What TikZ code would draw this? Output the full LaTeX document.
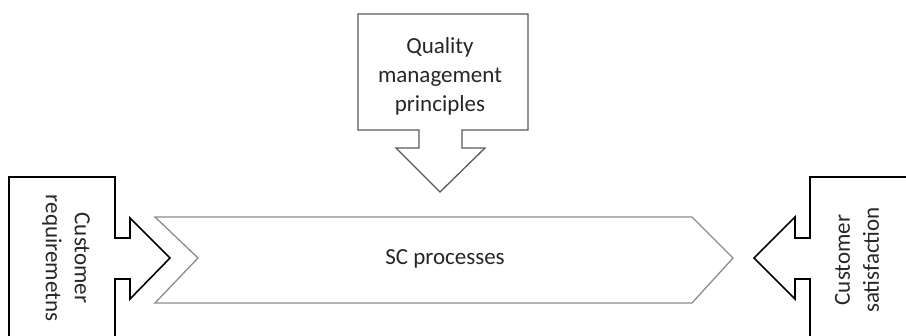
\documentclass[tikz,border=0pt]{standalone}
\usepackage{fontspec}
\setmainfont{Carlito}
\usetikzlibrary{positioning}
\tikzset{
  callout/.style={draw=black, line width=1.6pt, line join=miter},
  topcallout/.style={draw=black!65, line width=1.3pt, line join=miter},
  chevron/.style={draw=black!45, line width=1.3pt, line join=miter},
  label/.style={text=black!85, align=center, font=\fontsize{23}{29}\selectfont}
}
\begin{document}
\begin{tikzpicture}[x=1pt,y=-1pt]
\useasboundingbox (0,0) rectangle (906,336);
\clip (0,0) rectangle (906,336);
% quality management principles, pointing down
\draw[topcallout] (358,14) -- (528,14) -- (528,130) -- (462,130) -- (462,148) -- (485,148)
   -- (440,192) -- (396,148) -- (419,148) -- (419,130) -- (358,130) -- cycle;
\node[label] (qmp) at (440,76) {Quality\\management\\principles};
% SC processes
\draw[chevron] (155,217) -- (692,217) -- (733,258) -- (692,303) -- (155,303) -- (198,258) -- cycle;
\node[label] (scp) at (445,259) {SC processes};
% customer requirements, pointing right
\draw[callout] (9,345) -- (9,177) -- (115,177) -- (115,238) -- (130,238) -- (130,218)
   -- (170,258) -- (130,299) -- (130,279) -- (115,279) -- (115,345);
\node[label, rotate=-90] (req) at (66,258) {Customer\\requiremetns};
% customer satisfaction, pointing left
\draw[callout] (920,177) -- (810,177) -- (810,238) -- (795,238) -- (795,217)
   -- (754,258) -- (795,299) -- (795,279) -- (810,279) -- (810,345);
\node[label, rotate=90] (sat) at (857,260) {Customer\\satisfaction};
\end{tikzpicture}
\end{document}
